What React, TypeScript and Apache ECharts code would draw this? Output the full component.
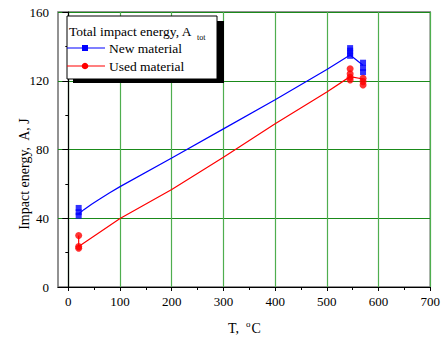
import React, { useEffect, useRef } from "react";
import * as echarts from "echarts";

// Measured impact energy (J) at each test temperature (°C)
const newMaterialPoints: [number, number][] = [
  [20, 46], [20, 43.5], [20, 41.5],
  [545, 139], [545, 137.5], [545, 136], [545, 134.5],
  [570, 130.5], [570, 127.5], [570, 125],
];
const usedMaterialPoints: [number, number][] = [
  [20, 30], [20, 23.5], [20, 22.5],
  [545, 127], [545, 124], [545, 122], [545, 120.5],
  [570, 121.5], [570, 119.5], [570, 117.5],
];

// Fitted trend curves
const newFitT = [20, 30, 45, 60, 80, 100, 200, 300, 400, 500, 545, 570];
const newFitA = [42.5, 45, 48.2, 51, 54.8, 58.4, 75, 92, 109, 126.5, 135, 129];
const usedFitT = [20, 20, 100, 200, 300, 400, 500, 545, 570];
const usedFitA = [30, 23.5, 39.8, 56.7, 75.5, 95, 113.5, 122.4, 121];

const xMajorTicks = [0, 100, 200, 300, 400, 500, 600, 700];
const xMinorTicks = [50, 150, 250, 350, 450, 550, 650];

const SERIF = "Times New Roman, Liberation Serif, serif";
const BLUE = "#0000ff";
const RED = "#ff0000";

const txt = (size: number) => ({ fontFamily: SERIF, fontSize: size, fill: "#000" });

export default function App() {
  const ref = useRef<HTMLDivElement>(null);

  useEffect(() => {
    if (!ref.current) return;
    const chart = echarts.init(ref.current, undefined, { renderer: "svg" });
    const zip = (t: number[], a: number[]) => t.map((v, i) => [v, a[i]]);

    chart.setOption({
      animation: false,
      backgroundColor: "#fff",
      textStyle: { fontFamily: SERIF },
      grid: {
        left: 58,
        top: 12,
        right: 10,
        bottom: 56,
        show: true,
        borderColor: "#6f6f6f",
        borderWidth: 1.5,
        backgroundColor: "transparent",
      },
      xAxis: [
        {
          type: "value",
          min: -20,
          max: 700,
          axisLine: { show: true, onZero: false, lineStyle: { color: "#000", width: 1.2 } },
          axisTick: { show: true, length: 4, customValues: xMajorTicks, lineStyle: { color: "#000" } },
          axisLabel: {
            customValues: xMajorTicks,
            fontFamily: SERIF,
            fontSize: 13,
            color: "#000",
            margin: 8,
          },
          splitLine: { show: true, lineStyle: { color: "#4fae4f", width: 1.2 } },
        },
        {
          type: "value",
          min: -20,
          max: 700,
          position: "bottom",
          axisLine: { show: false },
          axisTick: { show: true, length: 3, customValues: xMinorTicks, lineStyle: { color: "#000" } },
          axisLabel: { show: false },
          splitLine: { show: false },
        },
      ],
      yAxis: {
        type: "value",
        min: 0,
        max: 160,
        interval: 40,
        axisLine: { show: true, lineStyle: { color: "#000", width: 1.2 } },
        axisTick: { show: true, length: 6, lineStyle: { color: "#000" } },
        minorTick: { show: true, splitNumber: 2, length: 3, lineStyle: { color: "#000" } },
        axisLabel: { fontFamily: SERIF, fontSize: 13, color: "#000", margin: 9 },
        splitLine: { show: true, lineStyle: { color: "#1a8a1a", width: 1.2 } },
      },
      series: [
        {
          name: "New material fit",
          type: "line",
          data: zip(newFitT, newFitA),
          symbol: "none",
          lineStyle: { color: BLUE, width: 1.2 },
          z: 3,
        },
        {
          name: "Used material fit",
          type: "line",
          data: zip(usedFitT, usedFitA),
          symbol: "none",
          lineStyle: { color: RED, width: 1.2 },
          z: 3,
        },
        {
          name: "New material",
          type: "scatter",
          data: newMaterialPoints,
          symbol: "rect",
          symbolSize: 6,
          itemStyle: { color: BLUE },
          z: 4,
        },
        {
          name: "Used material",
          type: "scatter",
          data: usedMaterialPoints,
          symbol: "circle",
          symbolSize: 7,
          itemStyle: { color: RED },
          z: 4,
        },
      ],
      graphic: [
        // legend box with drop shadow
        { type: "rect", shape: { x: 73, y: 21, width: 151, height: 62 }, style: { fill: "#000" }, z: 10 },
        {
          type: "rect",
          shape: { x: 67, y: 16, width: 150, height: 63 },
          style: { fill: "#fff", stroke: "#000", lineWidth: 1 },
          z: 11,
        },
        {
          type: "text",
          x: 69,
          y: 31,
          style: { text: "Total impact energy, A", ...txt(13.5), textVerticalAlign: "middle" },
          z: 12,
        },
        {
          type: "text",
          x: 197,
          y: 37,
          style: { text: "tot", ...txt(8), textVerticalAlign: "middle" },
          z: 12,
        },
        { type: "line", shape: { x1: 67, y1: 48, x2: 105, y2: 48 }, style: { stroke: BLUE, lineWidth: 1.2 }, z: 12 },
        { type: "rect", shape: { x: 82, y: 45, width: 6, height: 6 }, style: { fill: BLUE }, z: 12 },
        {
          type: "text",
          x: 109,
          y: 48,
          style: { text: "New material", ...txt(13.5), textVerticalAlign: "middle" },
          z: 12,
        },
        { type: "line", shape: { x1: 67, y1: 66, x2: 105, y2: 66 }, style: { stroke: RED, lineWidth: 1.2 }, z: 12 },
        { type: "circle", shape: { cx: 85, cy: 66, r: 3.3 }, style: { fill: RED }, z: 12 },
        {
          type: "text",
          x: 109,
          y: 66,
          style: { text: "Used material", ...txt(13.5), textVerticalAlign: "middle" },
          z: 12,
        },
        // axis titles
        {
          type: "text",
          x: 24,
          y: 174,
          rotation: Math.PI / 2,
          style: {
            text: "Impact energy,  A, J",
            ...txt(14),
            textAlign: "center",
            textVerticalAlign: "middle",
          },
        },
        {
          type: "text",
          x: 228,
          y: 328,
          style: {
            text: "T,  {sup|o}C",
            ...txt(14),
            textVerticalAlign: "middle",
            rich: {
              sup: { fontFamily: SERIF, fontSize: 9, padding: [0, 1, 8, 0], fill: "#000" },
            },
          },
        },
      ],
    });

    return () => chart.dispose();
  }, []);

  return (
    <div
      ref={ref}
      style={{ position: "fixed", left: 0, top: 0, width: 443, height: 343 }}
    />
  );
}
